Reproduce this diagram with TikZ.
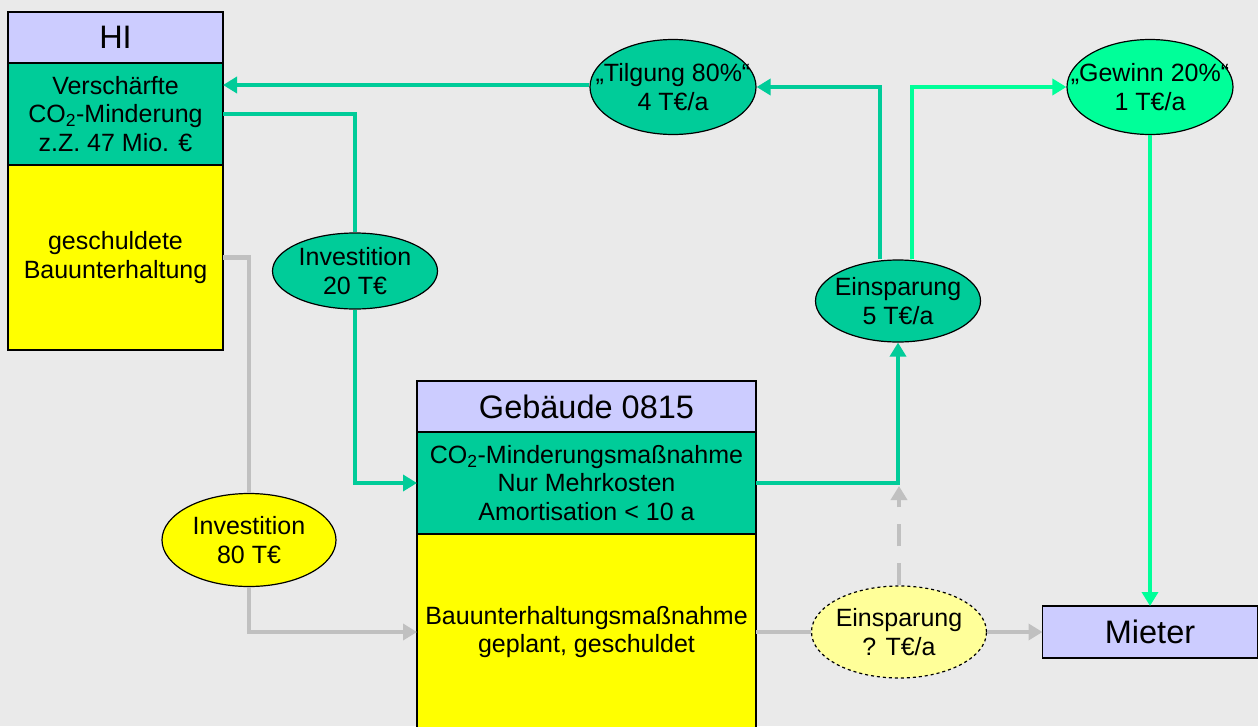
\documentclass[tikz,border=0pt]{standalone}
\usepackage{fontspec}
\setmainfont{Liberation Sans}
\usetikzlibrary{arrows.meta,positioning,shapes.geometric}
\definecolor{bggray}{HTML}{EAEAEA}
\definecolor{lav}{HTML}{CCCCFF}
\definecolor{grn}{HTML}{00CC99}
\definecolor{mint}{HTML}{00FF99}
\definecolor{ylw}{HTML}{FFFF00}
\definecolor{lylw}{HTML}{FFFF99}
\definecolor{edgray}{HTML}{C0C0C0}

\begin{document}
\begin{tikzpicture}[x=1pt,y=-1pt,font=\fontsize{25}{28.5}\selectfont,
  box/.style={draw,line width=1.2pt,outer sep=0pt,inner sep=0pt,align=center},
  hdr/.style={box,fill=lav,font=\fontsize{32.5}{36}\selectfont},
  grnbox/.style={box,fill=grn},
  ylwbox/.style={box,fill=ylw},
  oval/.style={ellipse,draw,line width=1.2pt,align=center,inner xsep=-30pt,inner ysep=-12pt},
  ed/.style={line width=4.5pt,edgray,-{Triangle[length=14pt,width=16pt]}},
  edn/.style={line width=4.5pt,edgray},
  edg/.style={line width=4.5pt,grn,-{Triangle[length=14pt,width=16pt]}},
  edgn/.style={line width=4.5pt,grn},
  edm/.style={line width=4.5pt,mint,-{Triangle[length=14pt,width=16pt]}}]
\useasboundingbox (0,0) rectangle (1258,726);
\fill[bggray] (0,0) rectangle (1258,726);
% HI
\node[hdr,minimum width=215,minimum height=51,anchor=north west] (hi1) at (8,12) {HI};
\node[grnbox,minimum width=215,minimum height=102,below=0pt of hi1] (hi2)
  {Verschärfte\\CO\textsubscript{2}-Minderung\\z.Z. 47 Mio. €};
\node[ylwbox,minimum width=215,minimum height=185,below=0pt of hi2] (hi3)
  {geschuldete\\Bauunterhaltung};
% Gebaeude
\node[hdr,minimum width=339,minimum height=51,anchor=north west] (geb1) at (417,381) {Gebäude 0815};
\node[grnbox,minimum width=339,minimum height=102,below=0pt of geb1] (geb2)
  {CO\textsubscript{2}-Minderungsmaßnahme\\Nur Mehrkosten\\Amortisation < 10 a};
\node[ylwbox,minimum width=339,minimum height=196,below=0pt of geb2] (geb3)
  {Bauunterhaltungsmaßnahme\\geplant, geschuldet};
\node[hdr,minimum width=215,minimum height=52] (mieter) at (1150,632) {Mieter};
% ovals
\node[oval,fill=grn,minimum width=165,minimum height=76] (inv20) at (355,271) {Investition\\20 T€};
\node[oval,fill=ylw,minimum width=174,minimum height=93] (inv80) at (249,540) {Investition\\80 T€};
\node[oval,fill=grn,minimum width=166,minimum height=95] (tilg) at (673,87) {„Tilgung 80\%“\\4 T€/a};
\node[oval,fill=mint,minimum width=166,minimum height=95] (gew) at (1150,87) {„Gewinn 20\%“\\1 T€/a};
\node[oval,fill=grn,minimum width=165,minimum height=82] (ein5) at (898,301) {Einsparung\\5 T€/a};
\node[oval,fill=lylw,dashed,minimum width=175,minimum height=92] (einq) at (899,632) {Einsparung\\? T€/a};
% green flow
\draw[edg] (tilg.west |- 0,85) -- (hi2.east |- 0,85);
\draw[edgn] (hi2.east) -| (inv20.north);
\draw[edg] (inv20.south) |- (geb2.west);
\draw[edg] (geb2.east) -| (ein5.south);
\draw[edg] ([xshift=-18pt]ein5.north) |- (tilg.east);
\draw[edm] ([xshift=14pt]ein5.north) |- (gew.west);
\draw[edm] (gew.south) -- (mieter.north);
% gray flow
\draw[edn] (hi3.east) -| (inv80.north);
\draw[ed] (inv80.south) |- (geb3.west);
\draw[edn] (geb3.east) -- (einq.west);
\draw[ed] (einq.east) -- (mieter.west);
\draw[ed,dash pattern=on 22pt off 17pt,shorten >=3pt] (einq.north) -- (einq.north |- geb2.east);
\end{tikzpicture}
\end{document}
